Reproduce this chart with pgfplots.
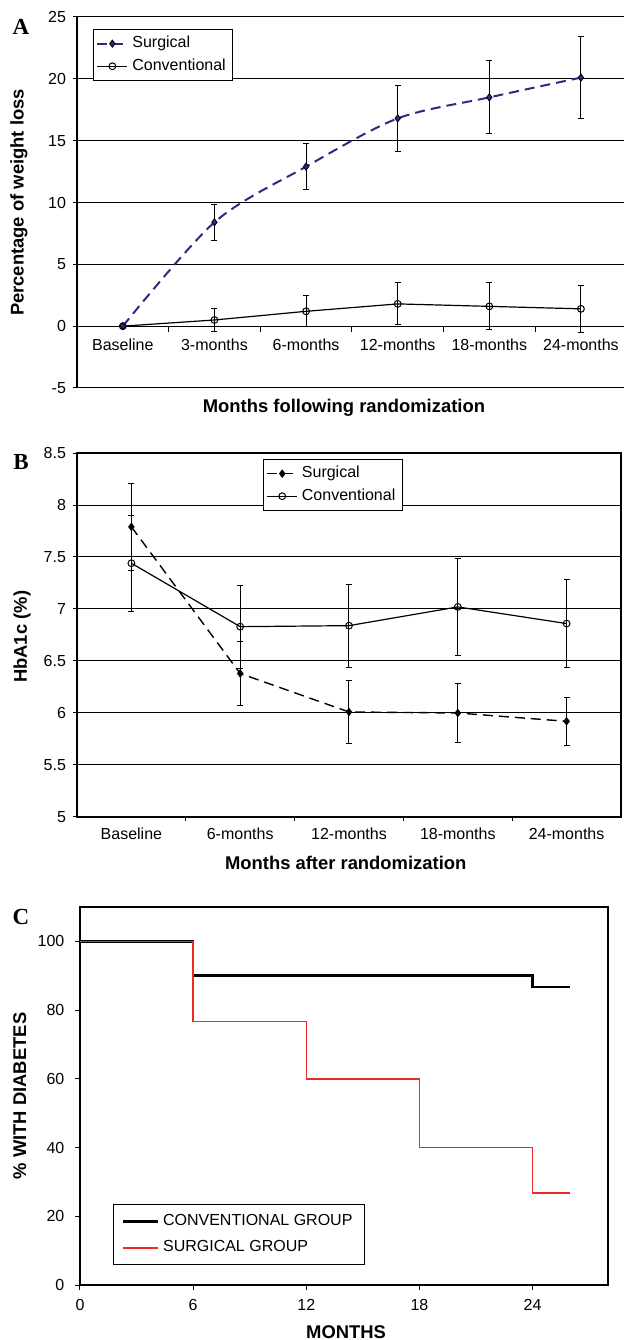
\documentclass[border=0pt]{standalone}
\usepackage{fontspec}
\setmainfont{Liberation Sans}
\newfontfamily\tnr{Liberation Serif}
\usepackage{pgfplots}
\pgfplotsset{compat=1.18}

\definecolor{surgblue}{HTML}{2E2A84}
\definecolor{kmred}{HTML}{EE2A24}

\pgfplotsset{
  panel/.style={
    scale only axis, anchor=south west,
    /pgf/number format/assume math mode=true,
    tick label style={font=\fontsize{8}{9.6}\selectfont},
    label style={font=\bfseries\fontsize{9.2}{11}\selectfont},
    legend style={font=\fontsize{8}{9.6}\selectfont, draw=black, line width=0.5pt,
      anchor=north west, legend cell align=left, inner sep=1.5pt, row sep=0pt},
    legend cell align=left,
  },
  markleg/.style={
    legend image code/.code={\draw[mark repeat=2,mark phase=2,##1]
      plot coordinates {(0pt,0pt) (7.5pt,0pt) (15pt,0pt)};}
  },
  ebar/.style={
    error bars/.cd, y dir=both, y explicit,
    error bar style={solid, black, line width=0.5pt},
    error mark options={rotate=90, solid, black, mark size=1.5pt, line width=0.5pt}
  }
}

\begin{document}
\begin{tikzpicture}
\useasboundingbox (0,0) rectangle (312pt,670pt);

% ---------- A ----------
\begin{axis}[panel, markleg,
  at={(38.5pt,476pt)}, width=273.5pt, height=185.5pt,
  xmin=-0.5, xmax=5.47, ymin=-5, ymax=25,
  axis x line*=middle, axis y line*=left,
  axis line style={-, line width=0.6pt},
  xtick={0,1,2,3,4,5},
  xticklabels={Baseline,3-months,6-months,12-months,18-months,24-months},
  major x tick style={draw=none},
  ytick={-5,0,5,10,15,20,25},
  major tick length=2pt, tick align=outside,
  y tick style={black, line width=0.5pt},
  ymajorgrids, grid style={black, line width=0.5pt},
  xlabel={Months following randomization},
  ylabel={Percentage of weight loss},
  xlabel style={at={(axis description cs:0.488,-0.054)}, anchor=center},
  ylabel style={at={(axis description cs:-0.106,0.5)}, anchor=center},
  xticklabel style={yshift=-1pt},
  legend style={at={(axis description cs:0.029,0.968)}},
]
\pgfplotsinvokeforeach{0.5,1.5,2.5,3.5,4.5}{
  \draw[black, line width=0.5pt] (axis cs:#1,0) -- ([yshift=-3pt]axis cs:#1,0);
}
\addplot[surgblue, line width=1pt, dash pattern=on 5pt off 3pt, smooth,
  mark=diamond*, mark size=1.8pt,
  mark options={solid, fill=surgblue, draw=black, line width=0.4pt}, ebar]
  coordinates {
  (0,0) +- (0,0)
  (1,8.4) +- (0,1.45)
  (2,12.9) +- (0,1.85)
  (3,16.8) +- (0,2.65)
  (4,18.5) +- (0,2.95)
  (5,20.1) +- (0,3.3)
};
\addlegendentry{Surgical}
\addplot[black, line width=0.6pt, mark=o, mark size=1.7pt,
  mark options={fill=white, line width=0.5pt}, ebar]
  coordinates {
  (0,0) +- (0,0)
  (1,0.5) +- (0,0.9)
  (2,1.2) +- (0,1.25)
  (3,1.8) +- (0,1.7)
  (4,1.6) +- (0,1.9)
  (5,1.4) +- (0,1.9)
};
\addlegendentry{Conventional}
\end{axis}

% ---------- B ----------
\begin{axis}[panel, markleg,
  at={(38.5pt,261.5pt)}, width=272pt, height=182pt,
  xmin=-0.5, xmax=4.5, ymin=5, ymax=8.5,
  axis line style={line width=0.7pt},
  xtick={0,1,2,3,4},
  xticklabels={Baseline,6-months,12-months,18-months,24-months},
  major x tick style={draw=none},
  minor xtick={0.5,1.5,2.5,3.5},
  minor tick length=2pt,
  minor x tick style={black, line width=0.5pt},
  xtick pos=lower, ytick pos=left,
  ytick={5,5.5,6,6.5,7,7.5,8,8.5},
  major tick length=2pt, tick align=outside,
  y tick style={black, line width=0.5pt},
  ymajorgrids, grid style={black, line width=0.5pt},
  xlabel={Months after randomization},
  ylabel={HbA1c (\%)},
  xlabel style={at={(axis description cs:0.494,-0.126)}, anchor=center},
  ylabel style={at={(axis description cs:-0.101,0.495)}, anchor=center},
  legend style={at={(axis description cs:0.342,0.984)}},
]
\addplot[black, line width=0.7pt, dash pattern=on 5pt off 3pt,
  mark=diamond*, mark size=1.6pt,
  mark options={solid, fill=black}, ebar]
  coordinates {
  (0,7.79) +- (0,0.42)
  (1,6.38) +- (0,0.31)
  (2,6.01) +- (0,0.30)
  (3,6.00) +- (0,0.28)
  (4,5.92) +- (0,0.23)
};
\addlegendentry{Surgical}
\addplot[black, line width=0.6pt, mark=o, mark size=1.7pt,
  mark options={fill=white, line width=0.5pt}, ebar]
  coordinates {
  (0,7.44) +- (0,0.46)
  (1,6.83) +- (0,0.40)
  (2,6.84) +- (0,0.40)
  (3,7.02) +- (0,0.47)
  (4,6.86) +- (0,0.42)
};
\addlegendentry{Conventional}
\end{axis}

% ---------- C ----------
\begin{axis}[panel,
  at={(40pt,27.5pt)}, width=264pt, height=189pt,
  xmin=0, xmax=28, ymin=0, ymax=110,
  axis line style={line width=0.6pt},
  xtick={0,6,12,18,24}, ytick={0,20,40,60,80,100},
  xtick pos=lower, ytick pos=left,
  tick align=outside, major tick length=2.3pt,
  tick style={black, line width=0.5pt},
  xticklabel shift=1.5pt, yticklabel shift=2pt,
  xlabel={MONTHS},
  ylabel={\% WITH DIABETES},
  xlabel style={at={(axis description cs:0.504,-0.124)}, anchor=center},
  ylabel style={at={(axis description cs:-0.114,0.5)}, anchor=center},
  legend style={at={(axis description cs:0.0625,0.214)}, inner xsep=4pt, inner ysep=3pt, row sep=2pt},
  legend image code/.code={\draw[#1] (0pt,0pt) -- (17.5pt,0pt);},
]
\addplot[black, line width=1.3pt, const plot] coordinates {
  (0,100) (6,90) (24,86.7) (26,86.7)
};
\addlegendentry{CONVENTIONAL GROUP}
\addplot[kmred, line width=0.75pt, const plot] coordinates {
  (0,100) (6,76.7) (12,60) (18,40) (24,26.7) (26,26.7)
};
\addlegendentry{SURGICAL GROUP}
\end{axis}

\node[font=\tnr\bfseries\fontsize{11.5}{12}\selectfont] at (10.5pt,656.5pt) {A};
\node[font=\tnr\bfseries\fontsize{11.5}{12}\selectfont] at (10.5pt,439pt) {B};
\node[font=\tnr\bfseries\fontsize{11.5}{12}\selectfont] at (10.5pt,211.5pt) {C};
\end{tikzpicture}
\end{document}
